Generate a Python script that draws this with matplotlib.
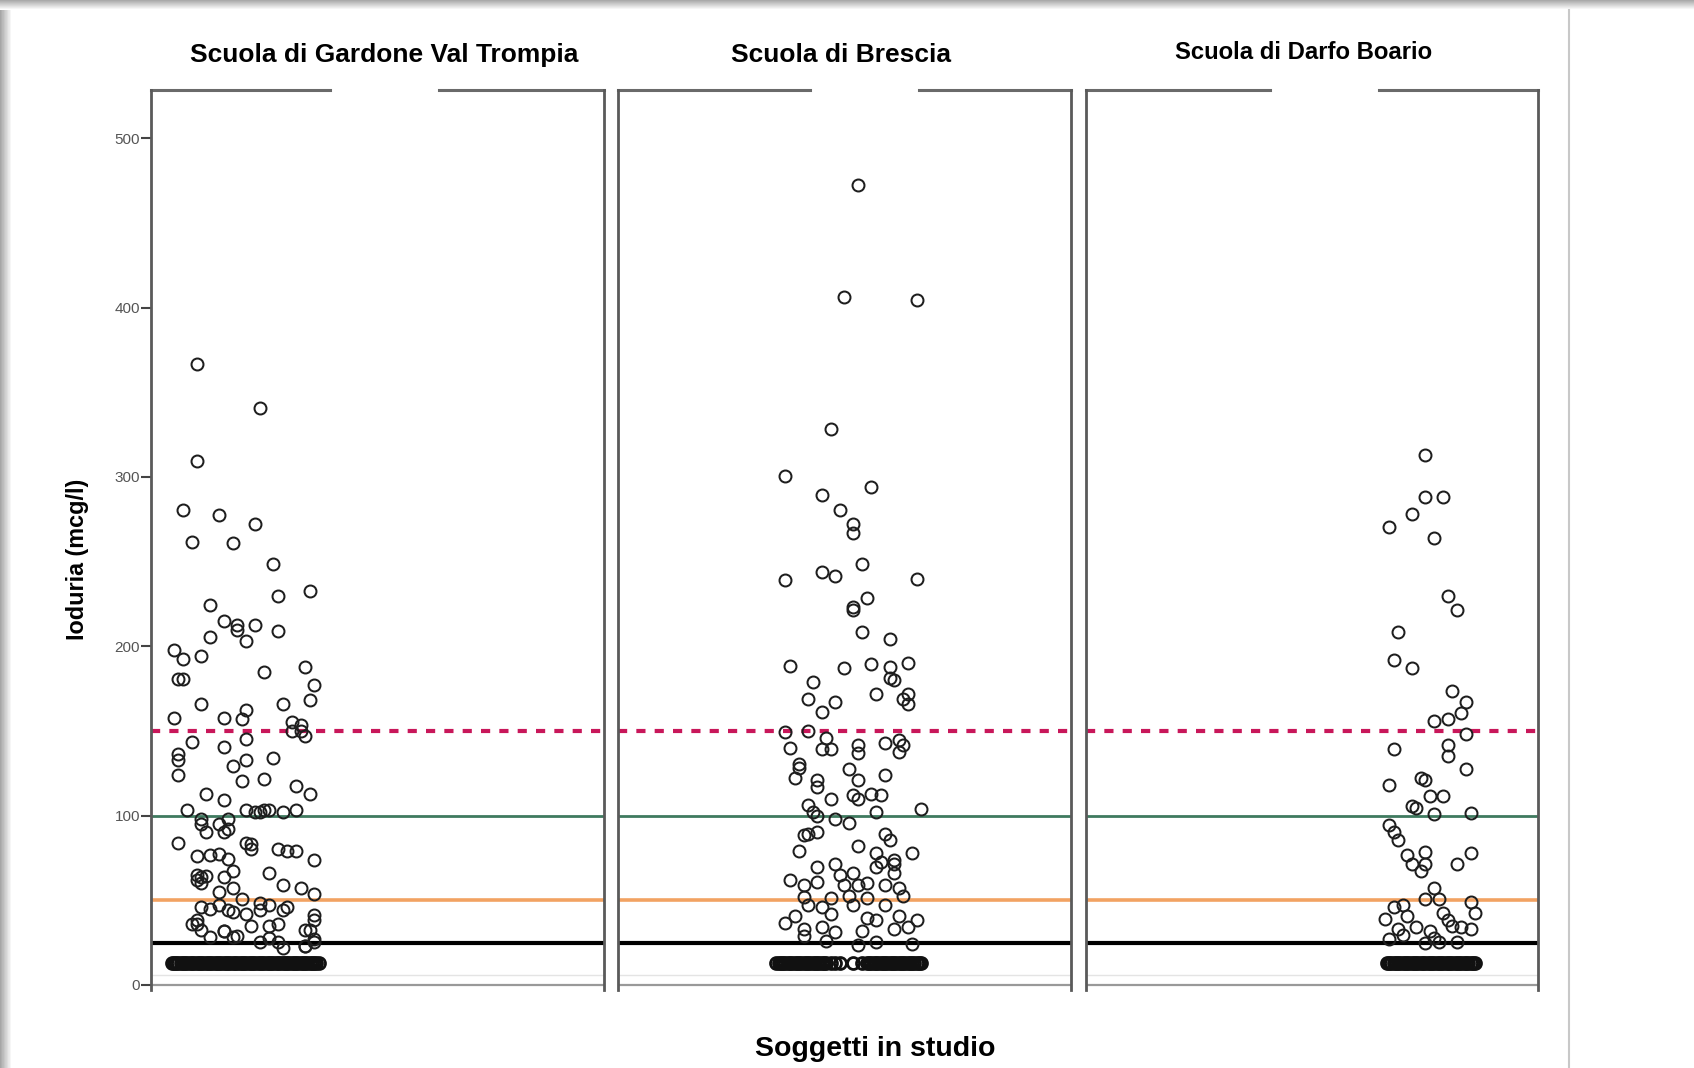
import numpy as np
import matplotlib
matplotlib.use("Agg")
import matplotlib.pyplot as plt

plt.rcParams['font.family'] = ['Liberation Sans', 'DejaVu Sans']

# titoli dei pannelli
scuole = ["Scuola di Gardone Val Trompia", "Scuola di Brescia", "Scuola di Darfo Boario"]

# soglie (mcg/l)
soglia_rossa = 150
soglia_verde = 100
soglia_arancio = 50
soglia_nera = 25

# valore dei soggetti sotto il limite di rilevazione
limite = 12.7

# posizione orizzontale (jitter, 0-100) e ioduria (mcg/l) per ogni soggetto
gardone_x = [10, 24, 10, 7, 15, 23, 9, 18, 27, 35, 13, 28, 16, 23, 19, 19, 28, 13, 21,
             5, 7, 11, 34, 25, 7, 6, 36, 35, 11, 29, 21, 20, 16, 5, 31, 33, 33, 31, 34, 21,
             9, 16, 6, 21, 18, 27, 6, 6, 25, 20, 32, 35, 12, 16, 32, 8, 21, 25, 29, 24, 26, 23, 17,
             11, 11, 15, 17, 12, 16, 22, 21, 22, 28, 30, 32, 36, 6, 10, 13, 15, 17, 18, 26, 10,
             10, 12, 11, 16, 18, 29, 33, 36, 11, 15, 20, 24, 26, 30, 18, 15, 11, 13, 17, 21, 24,
             29, 36, 36, 9, 10, 22, 26, 28, 34, 35, 10, 11, 16, 16, 19, 26, 36, 13, 18, 24, 28,
             34, 36, 34, 29]
gardone_y = [366.7, 340.6, 309.3, 280.6, 277.4, 272.3, 261.5, 260.8, 248.7, 232.8, 224.5, 229.6,
             214.9, 212.4, 212.4, 209.8, 209.2, 205.4, 202.8, 197.7, 192.6, 194.5, 187.5, 185.0,
             180.5, 180.5, 177.3, 168.4, 165.8, 165.8, 162.6, 156.9, 157.5, 157.5, 155.0, 153.7,
             149.9, 149.9, 146.7, 145.4, 143.5, 140.3, 136.5, 132.7, 129.5, 133.9, 132.7, 123.7,
             121.8, 120.5, 117.3, 112.9, 112.9, 109.0, 103.0, 103.0, 103.0, 103.0, 102.0, 102.0,
             103.0, 102.0, 98.0, 98.0, 95.0, 95.0, 92.0, 90.0, 90.0, 83.0, 84.0, 80.0, 80.0, 79.0,
             79.0, 74.0, 83.5, 76.0, 76.5, 77.0, 74.6, 67.0, 66.0, 62.0, 65.0, 64.0, 63.5, 63.5,
             57.0, 59.0, 57.0, 53.6, 60.0, 55.0, 50.4, 48.5, 47.0, 46.0, 43.0, 47.0, 46.0, 45.0,
             44.0, 42.0, 44.0, 44.0, 41.0, 38.0, 36.0, 38.0, 35.0, 35.0, 36.0, 32.5, 32.5, 35.7,
             32.5, 31.8, 32.0, 29.0, 27.4, 25.5, 28.0, 28.0, 25.5, 25.5, 23.0, 27.0, 23.0, 22.0]
gardone_basso = [4.5, 5.0, 5.5, 6.0, 6.5, 7.0, 7.5, 8.0, 8.5, 9.0, 9.5, 10.0, 10.5, 11.0, 11.5,
                 12.0, 12.5, 13.0, 13.5, 14.0, 14.5, 15.0, 15.5, 16.0, 16.5, 17.0, 17.5, 18.0,
                 18.5, 19.0, 19.5, 20.0, 20.5, 21.0, 21.5, 22.0, 22.5, 23.0, 23.5, 24.0, 24.5,
                 25.0, 25.5, 26.0, 26.5, 27.0, 27.5, 28.0, 28.5, 29.0, 29.5, 30.0, 30.5, 31.0,
                 31.5, 32.0, 32.5, 33.0, 33.5, 34.0, 34.5, 35.0, 35.5, 36.0, 36.5, 37.0]

brescia_x = [53, 50, 66, 47, 37, 56, 45, 49, 52, 52, 37, 45, 48, 54, 66, 55, 52, 52, 54, 60,
             38, 50, 56, 60, 64, 43, 60, 61, 42, 48, 57, 63, 64, 45, 64, 37, 42, 46, 53, 59, 62,
             38, 45, 47, 53, 62, 63, 40, 40, 51, 59, 39, 44, 44, 53, 47, 53, 56, 58, 52, 42, 43,
             44, 48, 57, 67, 42, 41, 44, 51, 59, 60, 40, 53, 57, 58, 61, 65, 44, 48, 61, 38, 41,
             44, 50, 53, 55, 59, 62, 49, 52, 61, 57, 41, 47, 51, 55, 63, 42, 45, 52, 59, 39, 47,
             55, 62, 66, 57, 37, 41, 45, 48, 54, 61, 64, 41, 46, 53, 65, 57]
brescia_y = [472.6, 406.3, 404.3, 328.4, 300.4, 294.0, 289.5, 280.6, 272.3, 266.6, 239.2, 243.6,
             241.7, 248.7, 239.8, 228.3, 223.2, 221.3, 208.5, 204.0, 188.1, 186.9, 189.4, 187.5,
             190.0, 178.6, 181.0, 179.8, 169.0, 167.0, 172.0, 169.0, 165.8, 161.4, 172.0, 149.2,
             150.0, 146.0, 141.6, 142.8, 144.8, 139.7, 139.0, 139.0, 137.0, 137.8, 141.6, 130.7,
             128.0, 127.5, 123.7, 122.4, 121.0, 116.7, 121.0, 109.7, 109.7, 112.9, 112.2, 112.0,
             106.5, 102.0, 99.5, 98.0, 102.0, 104.0, 89.0, 88.6, 90.5, 95.7, 89.0, 85.5, 79.0,
             82.0, 77.8, 72.7, 74.0, 77.8, 69.5, 71.4, 71.4, 62.0, 58.7, 60.6, 58.7, 58.7, 60.0,
             58.7, 57.4, 65.0, 66.3, 66.3, 69.5, 51.7, 51.0, 52.3, 51.0, 52.3, 47.0, 46.0, 47.0,
             47.0, 40.8, 42.0, 39.5, 40.8, 38.3, 38.3, 36.4, 33.0, 34.4, 31.3, 31.9, 33.0, 34.4,
             28.7, 26.0, 23.6, 24.2, 25.5]
brescia_basso = [35.0, 35.5, 36.0, 36.5, 37.0, 37.5, 38.0, 38.5, 39.0, 39.5, 40.0, 40.5, 41.0,
                 41.5, 42.0, 42.5, 43.0, 43.5, 44.0, 44.5, 45.0, 45.5, 46.0, 47.0, 48.0, 49.0,
                 52.0, 54.0, 55.0, 55.5, 56.0, 56.5, 57.0, 57.5, 58.0, 58.5, 59.0, 59.5, 60.0,
                 60.5, 61.0, 61.5, 62.0, 62.5, 63.0, 63.5, 64.0, 64.5, 65.0, 65.5, 66.0, 66.5, 67.0]

darfo_x = [75, 79, 75, 72, 67, 77, 80, 82, 69, 68, 72, 81, 84, 83, 80, 77, 84, 80, 80, 68, 84,
           67, 74, 75, 76, 79, 72, 73, 77, 85, 67, 68, 69, 71, 75, 72, 75, 74, 82, 85, 77, 75,
           78, 70, 68, 71, 66, 79, 80, 86, 85, 69, 73, 76, 70, 81, 83, 85, 67, 78, 77, 82, 75]
darfo_y = [313.1, 288.3, 288.3, 278.0, 270.4, 264.0, 229.6, 221.3, 208.5, 192.0, 186.9, 173.5,
           167.0, 160.7, 156.9, 155.6, 148.0, 141.6, 135.2, 139.0, 127.5, 118.0, 122.4, 121.0,
           111.6, 111.6, 105.9, 104.6, 100.8, 101.4, 94.4, 90.0, 85.5, 76.5, 78.4, 71.4, 71.4,
           67.0, 71.4, 77.8, 57.4, 50.4, 50.4, 47.0, 46.0, 40.8, 39.0, 42.7, 38.3, 42.7, 49.0,
           33.0, 34.4, 31.9, 29.3, 35.0, 34.4, 33.0, 26.8, 25.5, 27.4, 25.5, 25.0]
darfo_basso = [66.5, 67.0, 67.5, 68.0, 68.5, 69.0, 69.5, 70.0, 70.5, 71.0, 71.5, 72.0, 72.5,
               73.0, 73.5, 74.0, 74.5, 75.0, 75.5, 76.0, 76.5, 77.0, 77.5, 78.0, 78.5, 79.0,
               79.5, 80.0, 80.5, 81.0, 81.5, 82.0, 82.5, 83.0, 83.5, 84.0, 84.5, 85.0, 85.5, 86.0]

xs = [gardone_x, brescia_x, darfo_x]
ys = [gardone_y, brescia_y, darfo_y]
bassi = [gardone_basso, brescia_basso, darfo_basso]

fig = plt.figure(figsize=(16.94, 10.68), dpi=100)

# ombra del foglio (bordo superiore e sinistro) e margine destro
bg = fig.add_axes([0, 0, 1, 1], zorder=-5)
bg.set_xlim(0, 1568)
bg.set_ylim(989, 0)
bg.axis('off')
grad = np.linspace(0.65, 1.0, 20)
for i, g in enumerate(grad):
    bg.axhspan(i * 0.45, (i + 1) * 0.45, color=str(g), lw=0)
    bg.axvspan(i * 0.55, (i + 1) * 0.55, ymin=0, ymax=1 - 8 / 989, color=str(g), lw=0)
bg.plot([1452, 1452], [9, 989], color='#c8c8c8', lw=1.5)

lefts = [140 / 1568, 572 / 1568, 1005 / 1568]
bottom = 1 - 917 / 989
height = (917 - 83) / 989
width = 419 / 1568
gaps = [(0.395, 0.636), (0.425, 0.666), (0.406, 0.647)]
title_x = [356 / 1568, 778 / 1568, 1207 / 1568]
title_y = [1 - 51 / 989, 1 - 51 / 989, 1 - 49 / 989]
title_fs = [19, 19, 17.2]

for k in range(3):
    ax = fig.add_axes([lefts[k], bottom, width, height])
    ax.set_xlim(0, 100)
    ax.set_ylim(-3.2, 528.7)
    ax.axhline(soglia_rossa, color='#c8175a', lw=3, ls=(0, (2.2, 2.2)), zorder=1)
    ax.axhline(soglia_verde, color='#3f7a5f', lw=2, zorder=1)
    ax.axhline(soglia_arancio, color='#f2a262', lw=2.6, zorder=1)
    ax.axhline(soglia_nera, color='black', lw=3, zorder=1)
    ax.axhline(0, color='#999999', lw=1.6, zorder=1)
    ax.axhline(6, color='#e4e4e4', lw=1.0, zorder=0)
    ax.plot(xs[k], ys[k], 'o', mfc='none', mec='#1e1e1e', ms=8.6, mew=1.45, zorder=3)
    ax.plot(bassi[k], [limite] * len(bassi[k]), 'o', mfc='none', mec='#111111',
            ms=8.6, mew=2.0, zorder=3)

    for s in ['top', 'bottom']:
        ax.spines[s].set_visible(False)
    for s in ['left', 'right']:
        ax.spines[s].set_color('#5a5a5a')
        ax.spines[s].set_linewidth(2)
    g0, g1 = gaps[k]
    ax.plot([g1, 1], [528.7, 528.7], color='#6a6a6a', lw=2.2, clip_on=False,
            transform=ax.get_yaxis_transform())
    ax.plot([0, g0], [528.7, 528.7], color='#6a6a6a', lw=2.2, clip_on=False,
            transform=ax.get_yaxis_transform())
    ax.set_xticks([])
    if k == 0:
        ax.set_yticks([0, 100, 200, 300, 400, 500])
        ax.tick_params(axis='y', length=7, width=1.5, color='#444444', pad=1,
                       labelsize=11, labelcolor='#555555')
    else:
        ax.set_yticks([])
    fig.text(title_x[k], title_y[k], scuole[k], ha='center', va='center',
             fontsize=title_fs[k], fontweight='bold')

fig.text(72 / 1568, 1 - 518 / 989, "Ioduria (mcg/l)", rotation=90, ha='center', va='center',
         fontsize=16.8, fontweight='bold')
fig.text(810 / 1568, 1 - 971 / 989, "Soggetti in studio", ha='center', va='center',
         fontsize=20.5, fontweight='bold')

fig.savefig("out.png", dpi=100)
